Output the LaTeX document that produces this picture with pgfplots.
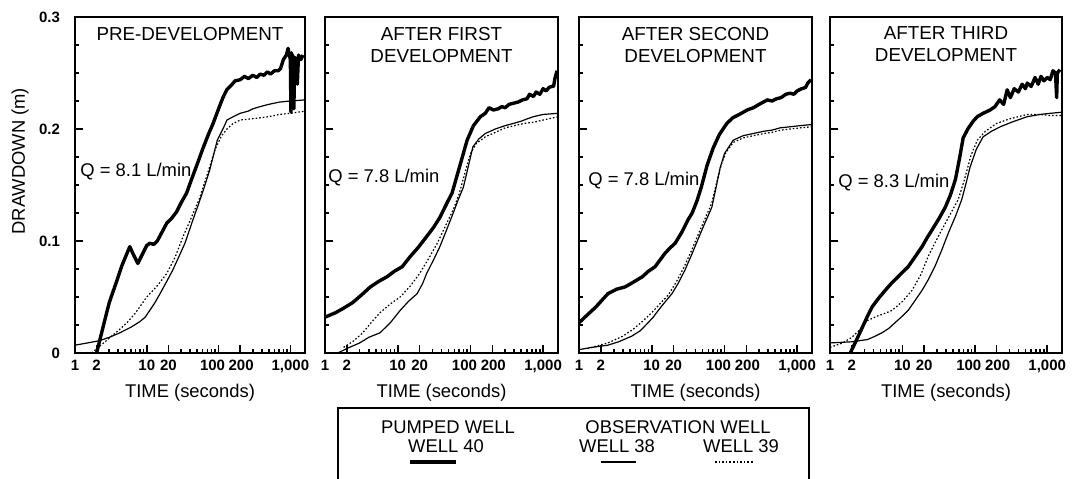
\documentclass[border=0pt]{standalone}
\usepackage{pgfplots}
\pgfplotsset{compat=1.18}
\usepackage{fontspec}
\setmainfont{Liberation Sans}

\tikzset{
  w40/.style={black, line width=1.7pt, line join=round},
  w38/.style={black, line width=0.6pt},
  w39/.style={black, line width=0.6pt, dash pattern=on 0.8pt off 1pt},
  ttl/.style={font=\fontsize{9.4}{11}\selectfont, align=center},
  qlab/.style={font=\fontsize{9.2}{10}\selectfont, anchor=west, inner sep=0pt},
}
\pgfplotsset{
  drawpanel/.style={
    scale only axis, height=168pt,
    xmin=1, xmax=1600, ymin=0, ymax=0.3,
    axis line style={line width=1.3pt},
    xtick={1,2,10,20,100,200,1000},
    xticklabels={1,2,10,20,{\kern-6pt100},{\kern1pt200},{1,000}},
    minor xtick={3,4,5,6,7,8,9,30,40,50,60,70,80,90,300,400,500,600,700,800,900},
    ytick={0,0.1,0.2,0.3},
    minor ytick={0.025,0.05,0.075,0.125,0.15,0.175,0.225,0.25,0.275},
    tick align=inside, xtick pos=bottom, ytick pos=left,
    major tick length=4pt, minor tick length=2pt,
    every tick/.append style={black, line width=0.8pt},
    tick label style={font=\fontsize{7.5}{8}\selectfont\bfseries},
    yticklabel style={xshift=-4pt},
    xlabel={TIME (seconds)},
    xlabel style={font=\fontsize{9.2}{10}\selectfont, at={(axis description cs:0.5,-0.119)}, anchor=center},
  },
}

\begin{document}
\begin{tikzpicture}
\useasboundingbox (0,0) rectangle (536pt,239pt);

% ---- panel 1: pre-development
\begin{semilogxaxis}[drawpanel, width=115pt, at={(37.5pt,62.5pt)}, anchor=south west,
  yticklabels={0,0.1,0.2,0.3},
  ylabel={DRAWDOWN (m)},
  ylabel style={font=\fontsize{9.2}{10}\selectfont, at={(axis description cs:-0.239,0.571)}, anchor=center}]
\addplot[w38] coordinates {(1,0.007) (1.5,0.009) (2.2,0.011) (3,0.014) (4.2,0.018) (6,0.023) (8,0.028) (9.5,0.032) (11,0.038) (13,0.045) (15,0.052) (19,0.064) (23,0.074) (28,0.086) (34,0.098) (44,0.119) (52,0.132) (61,0.145) (75,0.163) (96,0.19) (115,0.200) (131,0.208) (160,0.211) (200,0.214) (260,0.216) (300,0.218) (380,0.220) (500,0.222) (700,0.224) (1000,0.225) (1600,0.226)};
\addplot[w39] coordinates {(1.7,0) (2.3,0.007) (3.1,0.014) (4,0.020) (5.3,0.027) (7,0.036) (10,0.050) (14,0.060) (19,0.071) (25,0.086) (32,0.104) (40,0.118) (55,0.139) (70,0.160) (90,0.182) (110,0.194) (131,0.200) (160,0.205) (200,0.208) (280,0.209) (380,0.210) (500,0.211) (700,0.213) (1000,0.214) (1600,0.216)};
\addplot[w40] coordinates {(2,0) (2.5,0.025) (3,0.045) (3.85,0.065) (4.5,0.078) (5.8,0.095) (6.5,0.088) (7.5,0.080) (8.5,0.087) (10,0.096) (11,0.098) (12.5,0.097) (14,0.100) (16,0.107) (19,0.116) (22,0.120) (26,0.126) (30,0.134) (36,0.143) (42,0.155) (50,0.168) (60,0.182) (72,0.195) (84,0.205) (100,0.218) (115,0.228) (130,0.235) (150,0.239) (170,0.243) (200,0.244) (230,0.247) (260,0.245) (300,0.248) (340,0.246) (380,0.249) (430,0.248) (480,0.251) (530,0.249) (600,0.252) (680,0.252) (730,0.254) (800,0.262) (880,0.266) (930,0.272) (970,0.266) (1000,0.262) (1020,0.215) (1040,0.268) (1060,0.225) (1080,0.266) (1120,0.218) (1150,0.264) (1200,0.262) (1250,0.240) (1300,0.266) (1400,0.262) (1500,0.266)};
\node[ttl] at (rel axis cs:0.5,0.948) {PRE-DEVELOPMENT};
\node[qlab, xshift=2.5pt] at (axis cs:1,0.162) {Q = 8.1 L/min};
\end{semilogxaxis}

% ---- panel 2: after first development
\begin{semilogxaxis}[drawpanel, width=116.5pt, at={(162.5pt,62.5pt)}, anchor=south west, yticklabels={}]
\addplot[w38] coordinates {(1.5,0) (2,0.004) (3,0.009) (4,0.014) (5.7,0.018) (7.9,0.027) (10.8,0.038) (14,0.046) (18.5,0.053) (22,0.062) (25,0.071) (31,0.083) (38,0.095) (47,0.110) (58,0.125) (68,0.137) (80,0.148) (93,0.166) (108,0.184) (130,0.191) (160,0.196) (220,0.200) (300,0.203) (390,0.205) (500,0.207) (600,0.209) (735,0.211) (1000,0.213) (1600,0.214)};
\addplot[w39] coordinates {(1.8,0.005) (2.5,0.011) (3.3,0.018) (4.3,0.027) (5.7,0.036) (8,0.044) (10.8,0.050) (15,0.060) (20,0.071) (27,0.085) (35,0.098) (45,0.113) (58,0.128) (70,0.142) (85,0.162) (100,0.178) (120,0.187) (160,0.193) (220,0.197) (300,0.201) (400,0.203) (550,0.205) (735,0.206) (1000,0.208) (1600,0.211)};
\addplot[w40] coordinates {(1,0.032) (1.4,0.036) (1.8,0.040) (2.4,0.045) (3.2,0.052) (4.2,0.059) (5.5,0.064) (7.1,0.068) (9,0.073) (11.5,0.077) (14.8,0.086) (19,0.094) (25,0.104) (31,0.112) (38,0.121) (46,0.132) (56,0.143) (70,0.165) (90,0.190) (110,0.203) (137,0.211) (160,0.214) (180,0.219) (207,0.217) (240,0.218) (270,0.220) (300,0.219) (340,0.222) (390,0.223) (450,0.224) (520,0.226) (600,0.227) (650,0.231) (735,0.229) (800,0.233) (900,0.231) (1000,0.236) (1100,0.234) (1200,0.237) (1300,0.238) (1390,0.238) (1450,0.245) (1550,0.252)};
\node[ttl] at (rel axis cs:0.5,0.918) {AFTER FIRST\\DEVELOPMENT};
\node[qlab, xshift=1.5pt] at (axis cs:1,0.157) {Q = 7.8 L/min};
\end{semilogxaxis}

% ---- panel 3: after second development
\begin{semilogxaxis}[drawpanel, width=116.5pt, at={(289.5pt,62.5pt)}, anchor=south west, yticklabels={}]
\addplot[w38] coordinates {(1,0.003) (1.5,0.005) (2.5,0.007) (3.5,0.010) (5.3,0.015) (7,0.020) (8.9,0.027) (10.5,0.032) (12.3,0.038) (15,0.045) (19,0.053) (23,0.062) (28.6,0.074) (35,0.087) (43,0.101) (53,0.115) (67,0.130) (78,0.150) (87,0.165) (100,0.178) (132,0.190) (180,0.194) (250,0.196) (350,0.198) (450,0.199) (580,0.201) (800,0.202) (1100,0.203) (1600,0.204)};
\addplot[w39] coordinates {(1.3,0.004) (2.5,0.009) (4,0.015) (5.5,0.021) (7.4,0.028) (10,0.036) (13,0.044) (17,0.052) (22,0.064) (28,0.077) (35,0.091) (43,0.105) (55,0.121) (67,0.134) (78,0.152) (90,0.168) (105,0.179) (132,0.188) (180,0.192) (250,0.194) (350,0.196) (450,0.197) (600,0.199) (800,0.200) (1100,0.201) (1600,0.202)};
\addplot[w40] coordinates {(1,0.027) (1.3,0.034) (1.7,0.041) (2.5,0.053) (3.3,0.057) (4.3,0.059) (5.5,0.063) (7.4,0.068) (9,0.073) (11.1,0.077) (13,0.083) (15.2,0.089) (18,0.094) (21,0.098) (26,0.108) (31.6,0.119) (36,0.125) (42,0.136) (48,0.148) (58,0.168) (70,0.183) (85,0.195) (108,0.205) (130,0.210) (160,0.213) (206,0.217) (250,0.219) (300,0.222) (390,0.226) (450,0.225) (520,0.227) (600,0.228) (700,0.231) (800,0.232) (900,0.231) (1000,0.234) (1150,0.236) (1300,0.237) (1400,0.241) (1550,0.244)};
\node[ttl] at (rel axis cs:0.5,0.918) {AFTER SECOND\\DEVELOPMENT};
\node[qlab, xshift=4.5pt] at (axis cs:1,0.154) {Q = 7.8 L/min};
\end{semilogxaxis}

% ---- panel 4: after third development
\begin{semilogxaxis}[drawpanel, width=116pt, at={(415pt,62.5pt)}, anchor=south west, yticklabels={}]
\addplot[w38] coordinates {(1,0.009) (2,0.010) (3.3,0.012) (4.2,0.015) (5.2,0.018) (6.5,0.022) (7.9,0.027) (10,0.033) (12,0.038) (15,0.047) (18.7,0.056) (23,0.066) (28,0.077) (35,0.092) (43,0.107) (54,0.122) (66,0.137) (76,0.152) (86,0.166) (105,0.182) (130,0.193) (170,0.198) (225,0.202) (320,0.206) (530,0.211) (800,0.213) (1100,0.214) (1600,0.215)};
\addplot[w39] coordinates {(1,0.005) (1.5,0.009) (2,0.014) (2.6,0.021) (3.3,0.029) (4.5,0.033) (5.5,0.035) (7.2,0.038) (10,0.046) (13.6,0.056) (18,0.070) (22.6,0.086) (28,0.098) (35,0.110) (45,0.123) (59,0.137) (72,0.155) (88,0.176) (108,0.190) (140,0.198) (200,0.205) (300,0.209) (530,0.213) (800,0.213) (1100,0.212) (1600,0.212)};
\addplot[w40] coordinates {(1.9,0) (2.3,0.011) (2.8,0.023) (3.3,0.033) (3.8,0.041) (4.7,0.049) (5.8,0.056) (7,0.062) (8.7,0.068) (10,0.072) (12,0.077) (15,0.086) (18.7,0.095) (22,0.103) (25.7,0.110) (32,0.120) (39,0.130) (46,0.141) (54,0.155) (62,0.175) (69,0.192) (80,0.200) (95,0.207) (108,0.211) (130,0.214) (163,0.217) (190,0.220) (220,0.226) (250,0.222) (280,0.235) (310,0.228) (350,0.236) (400,0.233) (450,0.240) (500,0.236) (530,0.241) (600,0.238) (680,0.246) (750,0.240) (820,0.247) (900,0.243) (1000,0.246) (1100,0.244) (1200,0.252) (1300,0.250) (1350,0.228) (1380,0.250) (1500,0.253)};
\node[ttl] at (rel axis cs:0.5,0.918) {AFTER THIRD\\DEVELOPMENT};
\node[qlab, xshift=4pt] at (axis cs:1,0.152) {Q = 8.3 L/min};
\end{semilogxaxis}

% ---- legend
\draw[line width=0.6pt] (169pt,-5pt) -- (169pt,35pt) -- (404.5pt,35pt) -- (404.5pt,-5pt);
\begin{scope}[every node/.style={font=\fontsize{9.2}{10}\selectfont, inner sep=0pt}]
\node at (224pt,25.5pt) {PUMPED WELL};
\node at (223pt,16pt) {WELL 40};
\node at (339pt,25.5pt) {OBSERVATION WELL};
\node at (308.5pt,16pt) {WELL 38};
\node at (370.5pt,16pt) {WELL 39};
\end{scope}
\draw[w40] (205pt,8pt) -- (228pt,8pt);
\draw[w38] (300.5pt,8pt) -- (318pt,8pt);
\draw[w39] (357.5pt,8pt) -- (376.5pt,8pt);
\end{tikzpicture}
\end{document}
